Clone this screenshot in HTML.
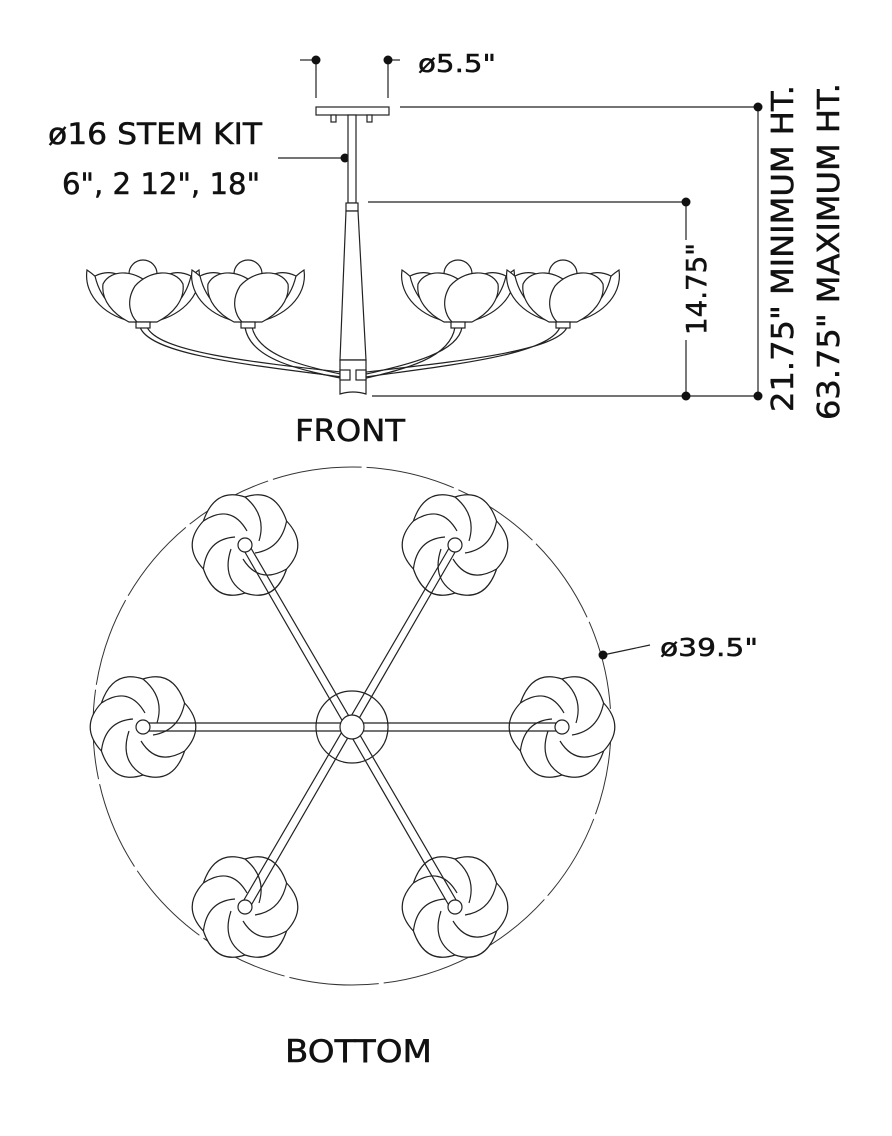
<!DOCTYPE html>
<html><head><meta charset="utf-8"><style>
html,body{margin:0;padding:0;background:#fff;}
svg{display:block;}
text{font-family:"DejaVu Sans","Liberation Sans",sans-serif;fill:#111;stroke:#111;stroke-width:0.5;}
</style></head><body>
<svg width="892" height="1136" viewBox="0 0 892 1136" xmlns="http://www.w3.org/2000/svg">
<defs>
<g id="ff" fill="#fff" stroke="#222" stroke-width="1.2">
  <circle cx="0" cy="-48" r="14"/>
  <path d="M-56,-52 C-60,-25 -35,-4 -8,0 C-25,-15 -35,-38 -56,-52Z"/>
  <path d="M56,-52 C60,-25 35,-4 8,0 C25,-15 35,-38 56,-52Z"/>
  <path d="M-48,-46 C-36,-52 -24,-50 -14,-40 L14,-40 C24,-50 36,-52 48,-46 C42,-20 22,-3 0,-1 C-22,-3 -42,-20 -48,-46Z"/>
  <path d="M-40,-38 C-32,-54 -6,-52 8,-36 C18,-20 12,-6 6,0 L-14,0 C-30,-8 -42,-22 -40,-38Z"/>
  <path d="M40,-38 C32,-54 6,-52 -8,-36 C-18,-20 -12,-6 -6,0 L14,0 C30,-8 42,-22 40,-38Z"/>
  <rect x="-7" y="0" width="14" height="6"/>
</g>
<g id="bf" fill="#fff" stroke="#222" stroke-width="1.2">
  <path d="M0,-48 Q30,-58 41.6,-24 Q64,0 41.6,24 Q30,58 0,48 Q-30,58 -41.6,24 Q-64,0 -41.6,-24 Q-30,-58 0,-48Z"/>
  <path d="M0,-48 Q22,-30 14,-4 M41.6,-24 Q36,4 10,8 M41.6,24 Q14,40 -2,14 M0,48 Q-24,34 -14,4 M-41.6,24 Q-38,-6 -10,-8 M-41.6,-24 Q-14,-42 2,-14" fill="none"/>
</g>
</defs>

<!-- top dims -->
<g stroke="#222" stroke-width="1.2" fill="none">
<line x1="300" y1="60" x2="316" y2="60"/><line x1="316" y1="60" x2="316" y2="98"/>
<line x1="388" y1="60" x2="400" y2="60"/><line x1="388" y1="60" x2="388" y2="98"/>
<line x1="278" y1="158" x2="345" y2="158"/>
<line x1="400" y1="107" x2="758" y2="107"/>
<line x1="368" y1="202" x2="686" y2="202"/>
<line x1="372" y1="396" x2="758" y2="396"/>
<line x1="686" y1="202" x2="686" y2="240"/><line x1="686" y1="340" x2="686" y2="396"/>
<line x1="758" y1="107" x2="758" y2="396"/>
</g>
<g fill="#111">
<circle cx="316" cy="60" r="4.5"/><circle cx="388" cy="60" r="4.5"/>
<circle cx="345" cy="158" r="4.5"/><circle cx="758" cy="107" r="4.5"/>
<circle cx="686" cy="202" r="4.5"/><circle cx="686" cy="396" r="4.5"/><circle cx="758" cy="396" r="4.5"/>
</g>
<text x="418" y="72" font-size="25" textLength="78" lengthAdjust="spacingAndGlyphs">ø5.5"</text>
<text x="48" y="144" font-size="29" textLength="214" lengthAdjust="spacingAndGlyphs">ø16 STEM KIT</text>
<text x="62" y="194" font-size="29" textLength="198" lengthAdjust="spacingAndGlyphs">6", 2 12",  18"</text>
<text transform="translate(706,335) rotate(-90)" font-size="28" textLength="92" lengthAdjust="spacingAndGlyphs">14.75"</text>
<text transform="translate(793,412) rotate(-90)" font-size="30" textLength="327" lengthAdjust="spacingAndGlyphs">21.75" MINIMUM HT.</text>
<text transform="translate(839,420) rotate(-90)" font-size="30" textLength="337" lengthAdjust="spacingAndGlyphs">63.75" MAXIMUM HT.</text>

<!-- fixture front -->
<g stroke="#222" stroke-width="1.2" fill="#fff">
<rect x="316" y="107" width="73" height="8"/>
<rect x="331" y="115" width="5" height="7"/><rect x="367" y="115" width="5" height="7"/>
<rect x="348" y="115" width="8" height="88"/>
<rect x="346" y="203" width="12" height="8"/>
<path d="M346,211 L358,211 L366,360 L340,360 Z"/>
<path d="M340,360 L366,360 L366,394 Q353,390 340,394 Z"/>
<path d="M140,327 C150,355 250,365 350,378 M147,327 C158,352 250,362 350,373" fill="none"/>
<path d="M245,327 C250,360 300,370 350,380 M252,327 C258,355 300,366 350,376" fill="none"/>
<path d="M455,327 C450,360 400,370 358,380 M462,327 C458,355 400,366 358,376" fill="none"/>
<path d="M560,327 C550,355 450,365 358,378 M567,327 C558,352 450,362 358,373" fill="none"/>
<rect x="340" y="370" width="10" height="10"/><rect x="356" y="370" width="10" height="10"/>
</g>
<use href="#ff" x="143" y="322"/>
<use href="#ff" x="248" y="322"/>
<use href="#ff" x="458" y="322"/>
<use href="#ff" x="563" y="322"/>
<text x="295" y="441" font-size="30" textLength="110" lengthAdjust="spacingAndGlyphs">FRONT</text>

<!-- bottom -->
<circle cx="352" cy="726" r="259" fill="none" stroke="#333" stroke-width="1" stroke-dasharray="90 5"/>
<line x1="603" y1="655" x2="650" y2="645" stroke="#222" stroke-width="1.2"/>
<circle cx="603" cy="655" r="4.5" fill="#111"/>
<text x="660" y="656" font-size="25" textLength="98" lengthAdjust="spacingAndGlyphs">ø39.5"</text>
<circle cx="352" cy="727" r="36" fill="#fff" stroke="#222" stroke-width="1.2"/>
<use href="#bf" x="245" y="545"/>
<use href="#bf" x="455" y="545"/>
<use href="#bf" x="143" y="727"/>
<use href="#bf" x="562" y="727"/>
<use href="#bf" x="245" y="907"/>
<use href="#bf" x="455" y="907"/>
<g stroke="#222" stroke-width="1.2" fill="none">
<path d="M143,723 L562,723 M143,731 L562,731"/>
<path d="M248,543 L459,905 M242,547 L451,909"/>
<path d="M452,543 L241,905 M458,547 L249,909"/>
</g>
<g fill="#fff" stroke="#222" stroke-width="1.2">
<circle cx="143" cy="727" r="7"/><circle cx="562" cy="727" r="7"/>
<circle cx="245" cy="545" r="7"/><circle cx="455" cy="545" r="7"/>
<circle cx="245" cy="907" r="7"/><circle cx="455" cy="907" r="7"/>
<circle cx="352" cy="727" r="12"/>
</g>
<text x="285" y="1062" font-size="31" textLength="147" lengthAdjust="spacingAndGlyphs">BOTTOM</text>
</svg>
</body></html>
